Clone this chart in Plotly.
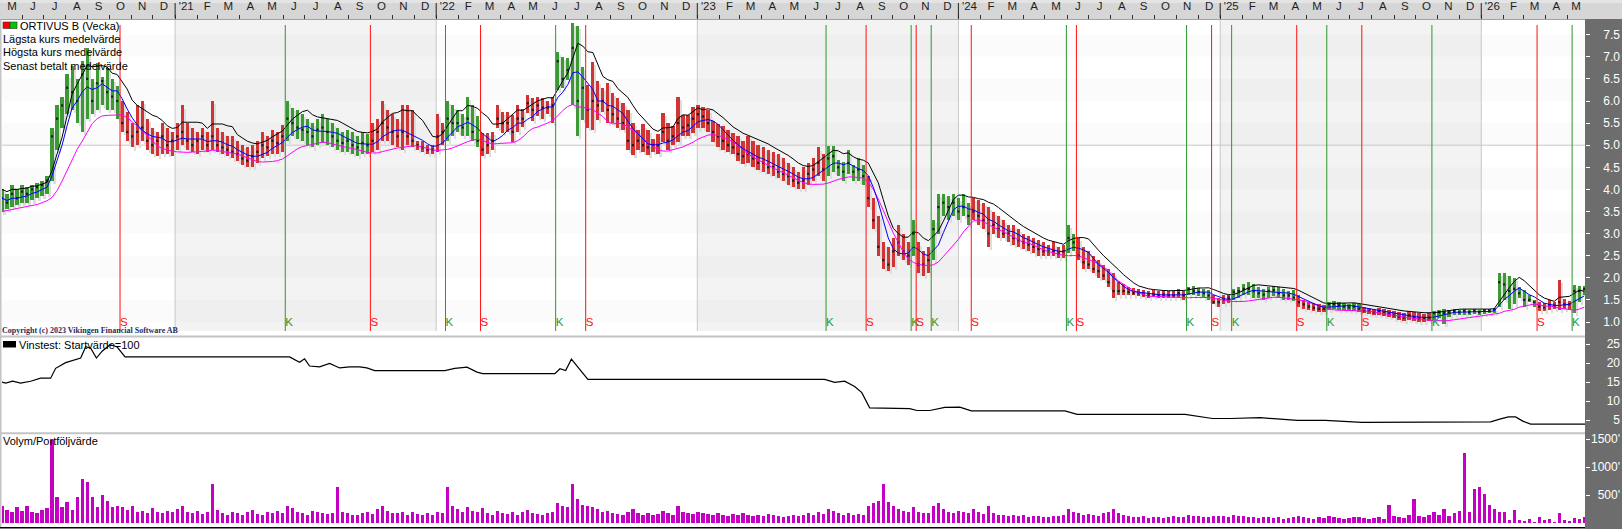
import pandas as pd
import plotly.graph_objects as go

W, H = 1622, 529
X0_PX, X1_PX = 2, 1585

first_week = "2020-05-04"
x_range = ["2020-05-04", "2026-05-26"]

# ---------------- weekly price data (high / low / close) ----------------
high_2020 = [4.0, 3.9, 4.1, 4.0, 4.1, 4.05, 4.1, 4.15, 4.2, 4.3,
             5.4, 5.9, 6.1, 6.6, 6.8, 6.5, 6.9, 7.2, 6.5, 6.85,
             6.55, 6.75, 6.5, 6.35, 6.0, 5.75, 5.5, 5.9, 6.0, 5.6,
             5.4, 5.3, 5.5, 5.4, 5.3]
low_2020 = [3.5, 3.55, 3.6, 3.65, 3.7, 3.7, 3.75, 3.8, 3.85, 3.9,
            4.2, 4.9, 5.4, 5.7, 5.8, 5.5, 5.3, 5.6, 5.7, 5.8,
            5.9, 5.8, 5.8, 5.6, 5.3, 5.1, 4.95, 5.0, 5.1, 4.9,
            4.8, 4.75, 4.8, 4.8, 4.75]
close_2020 = [3.8, 3.7, 3.9, 3.8, 3.95, 3.9, 4.0, 4.05, 4.1, 4.2,
              5.2, 5.6, 5.9, 6.3, 6.2, 6.0, 6.6, 6.5, 6.0, 6.4,
              6.45, 6.2, 6.1, 6.0, 5.5, 5.3, 5.2, 5.3, 5.4, 5.1,
              5.0, 5.1, 5.2, 5.0, 5.1]

high_2021 = [5.5, 5.9, 5.5, 5.4, 5.3, 5.4, 5.3, 6.0, 5.4, 5.3,
             5.2, 5.2, 5.1, 5.0, 4.95, 5.0, 5.1, 5.3, 5.2, 5.35,
             5.3, 5.45, 6.0, 5.85, 5.8, 5.7, 5.6, 5.5, 5.6, 5.7,
             5.6, 5.5, 5.4, 5.3, 5.35, 5.3, 5.2, 5.3, 5.25, 5.5,
             5.6, 6.0, 5.8, 5.7, 5.6, 5.9, 5.9, 5.8, 5.1, 5.1,
             5.0, 5.0]
low_2021 = [4.9, 5.0, 4.9, 4.85, 4.8, 4.9, 4.85, 4.9, 4.85, 4.8,
            4.75, 4.7, 4.65, 4.55, 4.5, 4.5, 4.6, 4.7, 4.75, 4.8,
            4.8, 4.85, 5.1, 5.2, 5.15, 5.1, 5.0, 4.95, 5.0, 5.05,
            5.0, 4.95, 4.9, 4.85, 4.85, 4.8, 4.75, 4.8, 4.8, 4.85,
            4.9, 5.1, 5.1, 5.0, 4.95, 4.9, 5.0, 4.95, 4.9, 4.85,
            4.8, 4.8]
close_2021 = [5.2, 5.3, 5.1, 5.0, 5.1, 5.2, 5.0, 5.2, 5.0, 4.95,
              4.9, 4.85, 4.8, 4.7, 4.65, 4.75, 4.85, 5.0, 4.95, 5.1,
              5.05, 5.2, 5.6, 5.5, 5.4, 5.35, 5.3, 5.2, 5.35, 5.4,
              5.3, 5.2, 5.1, 5.05, 5.1, 5.0, 4.95, 5.05, 5.0, 5.1,
              5.3, 5.5, 5.4, 5.3, 5.2, 5.3, 5.2, 5.1, 5.0, 4.95,
              4.9, 4.9]

high_2022 = [5.7, 5.5, 6.0, 5.9, 5.8, 5.7, 6.1, 5.9, 5.65, 5.27,
             5.27, 5.3, 5.9, 5.76, 5.76, 5.68, 5.9, 5.82, 6.14, 6.07,
             6.1, 6.07, 6.0, 6.1, 7.1, 7.0, 6.97, 7.76, 7.7, 6.78,
             6.36, 6.89, 6.45, 6.3, 6.4, 6.18, 6.07, 5.95, 5.8, 5.5,
             5.35, 5.47, 5.35, 5.15, 5.25, 5.73, 5.5, 5.43, 6.1, 5.68,
             5.68, 5.87]
low_2022 = [4.85, 5.0, 5.1, 5.2, 5.3, 5.2, 5.2, 5.1, 4.95, 4.75,
            4.8, 4.9, 5.4, 5.27, 5.3, 5.08, 5.3, 5.42, 5.72, 5.55,
            5.65, 5.6, 5.7, 5.5, 6.25, 6.3, 6.47, 5.9, 5.2, 5.57,
            5.4, 5.35, 5.57, 5.75, 5.5, 5.5, 5.4, 5.35, 4.9, 4.78,
            4.9, 4.85, 4.78, 4.85, 4.8, 5.08, 4.9, 5.0, 5.08, 5.2,
            5.2, 5.27]
close_2022 = [5.2, 5.3, 5.6, 5.5, 5.5, 5.4, 5.6, 5.3, 5.1, 4.9,
              5.0, 5.1, 5.6, 5.5, 5.5, 5.3, 5.6, 5.6, 5.95, 5.8,
              5.9, 5.85, 5.85, 5.9, 6.9, 6.5, 6.7, 7.2, 6.0, 6.3,
              5.8, 6.0, 5.9, 6.0, 5.8, 5.7, 5.6, 5.5, 5.1, 5.0,
              5.1, 5.0, 4.95, 5.0, 5.0, 5.3, 5.1, 5.2, 5.5, 5.4,
              5.45, 5.6]

high_2023 = [5.9, 5.87, 5.8, 5.55, 5.47, 5.43, 5.35, 5.27, 5.2, 5.1,
             5.2, 5.1, 5.0, 4.95, 4.9, 4.85, 4.8, 4.7, 4.6, 4.5,
             4.4, 4.5, 4.6, 4.7, 4.95, 4.8, 4.98, 4.98, 4.66, 4.62,
             4.89, 4.55, 4.7, 4.55, 4.3, 3.8, 3.4, 2.8, 2.7, 2.9,
             3.2, 3.0, 2.8, 3.3, 2.8, 2.6, 2.7, 3.3, 3.9, 3.9,
             3.85, 3.9]
low_2023 = [5.38, 5.4, 5.3, 5.08, 4.95, 4.9, 4.85, 4.8, 4.65, 4.58,
            4.6, 4.5, 4.45, 4.4, 4.35, 4.3, 4.25, 4.2, 4.1, 4.05,
            4.0, 4.0, 4.1, 4.2, 4.3, 4.2, 4.3, 4.4, 4.3, 4.2,
            4.35, 4.2, 4.2, 4.1, 3.6, 3.1, 2.5, 2.2, 2.15, 2.25,
            2.5, 2.4, 2.3, 2.5, 2.1, 2.05, 2.1, 2.4, 3.0, 3.4,
            3.3, 3.4]
close_2023 = [5.7, 5.65, 5.5, 5.3, 5.2, 5.1, 5.0, 4.95, 4.8, 4.75,
              4.8, 4.7, 4.6, 4.6, 4.5, 4.5, 4.4, 4.35, 4.3, 4.2,
              4.15, 4.2, 4.35, 4.45, 4.6, 4.45, 4.7, 4.75, 4.5, 4.4,
              4.6, 4.4, 4.45, 4.3, 3.8, 3.3, 2.7, 2.4, 2.3, 2.6,
              2.8, 2.6, 2.5, 3.0, 2.3, 2.3, 2.4, 3.1, 3.6, 3.7,
              3.6, 3.7]

high_2024 = [3.8, 3.9, 3.7, 3.8, 3.75, 3.7, 3.6, 3.5, 3.4, 3.3,
             3.2, 3.2, 3.1, 3.0, 2.95, 2.9, 2.85, 2.8, 2.75, 2.8,
             2.7, 2.75, 3.2, 3.0, 2.9, 2.7, 2.6, 2.5, 2.4, 2.3,
             2.2, 2.1, 1.9, 1.85, 1.8, 1.78, 1.75, 1.72, 1.7, 1.72,
             1.7, 1.72, 1.7, 1.7, 1.75, 1.7, 1.8, 1.82, 1.78, 1.75,
             1.72, 1.6, 1.55]
low_2024 = [3.3, 3.4, 3.2, 3.3, 3.2, 3.1, 2.7, 3.0, 2.9, 2.9,
            2.8, 2.75, 2.7, 2.65, 2.6, 2.55, 2.5, 2.5, 2.5, 2.5,
            2.45, 2.45, 2.55, 2.6, 2.4, 2.2, 2.2, 2.1, 2.0, 1.95,
            1.8, 1.55, 1.6, 1.6, 1.6, 1.6, 1.58, 1.56, 1.55, 1.56,
            1.55, 1.55, 1.54, 1.55, 1.55, 1.5, 1.6, 1.6, 1.58, 1.55,
            1.5, 1.4, 1.35]
close_2024 = [3.5, 3.6, 3.4, 3.5, 3.4, 3.3, 3.0, 3.2, 3.1, 3.0,
              3.0, 2.9, 2.85, 2.8, 2.75, 2.7, 2.65, 2.6, 2.6, 2.6,
              2.55, 2.6, 2.9, 2.8, 2.5, 2.35, 2.3, 2.2, 2.15, 2.05,
              1.9, 1.7, 1.7, 1.7, 1.68, 1.65, 1.65, 1.62, 1.6, 1.62,
              1.6, 1.62, 1.6, 1.6, 1.65, 1.6, 1.75, 1.7, 1.68, 1.65,
              1.6, 1.45, 1.45]

high_2025 = [1.6, 1.62, 1.75, 1.8, 1.85, 1.9, 1.85, 1.8, 1.75, 1.8,
             1.82, 1.8, 1.75, 1.7, 1.72, 1.6, 1.5, 1.45, 1.42, 1.4,
             1.38, 1.45, 1.48, 1.45, 1.42, 1.4, 1.42, 1.4, 1.35, 1.32,
             1.3, 1.32, 1.3, 1.28, 1.25, 1.22, 1.2, 1.25, 1.22, 1.2,
             1.18, 1.2, 1.25, 1.28, 1.3, 1.28, 1.3, 1.28, 1.3, 1.28,
             1.3, 1.28]
low_2025 = [1.4, 1.42, 1.5, 1.55, 1.6, 1.6, 1.55, 1.55, 1.5, 1.55,
            1.58, 1.55, 1.5, 1.5, 1.48, 1.35, 1.3, 1.28, 1.25, 1.22,
            1.22, 1.28, 1.3, 1.28, 1.28, 1.25, 1.25, 1.22, 1.2, 1.18,
            1.15, 1.15, 1.14, 1.12, 1.08, 1.05, 1.02, 1.05, 1.03, 1.0,
            1.0, 1.02, 1.05, 1.1, 0.95, 1.12, 1.15, 1.15, 1.15, 1.15,
            1.18, 1.16]
close_2025 = [1.5, 1.55, 1.68, 1.7, 1.75, 1.75, 1.7, 1.65, 1.62, 1.7,
              1.72, 1.65, 1.6, 1.6, 1.55, 1.45, 1.4, 1.35, 1.32, 1.3,
              1.3, 1.4, 1.4, 1.38, 1.35, 1.33, 1.35, 1.3, 1.25, 1.25,
              1.22, 1.25, 1.2, 1.18, 1.15, 1.12, 1.1, 1.15, 1.1, 1.08,
              1.08, 1.1, 1.2, 1.22, 1.2, 1.22, 1.25, 1.22, 1.25, 1.22,
              1.25, 1.22]

high_2026 = [1.3, 1.3, 1.32, 2.1, 2.1, 2.05, 2.0, 1.8, 1.72, 1.6,
             1.5, 1.46, 1.43, 1.5, 1.45, 1.95, 1.52, 1.48, 1.84, 1.82,
             1.82]
low_2026 = [1.18, 1.2, 1.2, 1.35, 1.5, 1.3, 1.4, 1.55, 1.35, 1.45,
            1.35, 1.24, 1.25, 1.28, 1.3, 1.27, 1.3, 1.28, 1.2, 1.45,
            1.6]
close_2026 = [1.25, 1.25, 1.28, 1.9, 1.85, 1.7, 1.75, 1.65, 1.5, 1.5,
              1.45, 1.35, 1.33, 1.38, 1.37, 1.45, 1.4, 1.4, 1.7, 1.7,
              1.75]

# ---------------- weekly volume (thousands) ----------------
vol_2020 = [300, 240, 190, 280, 220, 300, 200, 180, 240, 260,
            1480, 460, 280, 370, 240, 460, 780, 740, 460, 280,
            500, 390, 280, 300, 280, 240, 300, 200, 220, 180,
            260, 200, 170, 220, 190]
vol_2021 = [250, 300, 200, 180, 220, 160, 200, 700, 240, 180,
            150, 200, 170, 140, 190, 230, 160, 150, 200, 180,
            210, 170, 300, 260, 200, 180, 150, 220, 190, 170,
            160, 180, 650, 200, 180, 150, 140, 170, 200, 160,
            250, 300, 220, 180, 170, 200, 150, 190, 160, 140,
            170, 150]
vol_2022 = [200, 180, 650, 300, 250, 200, 280, 220, 190, 260,
            180, 150, 220, 170, 160, 190, 150, 200, 230, 170,
            160, 140, 180, 200, 350, 300, 280, 700, 420, 330,
            300, 280, 250, 200, 220, 180, 160, 150, 200, 250,
            170, 150, 180, 140, 160, 220, 170, 150, 300, 200,
            180, 160]
vol_2023 = [200, 180, 160, 150, 170, 140, 130, 160, 150, 180,
            140, 120, 150, 130, 160, 140, 120, 110, 130, 150,
            120, 140, 170, 150, 200, 160, 250, 220, 180, 150,
            170, 140, 160, 150, 300, 350, 400, 700, 380, 300,
            250, 220, 200, 280, 200, 180, 170, 300, 350, 250,
            200, 180]
vol_2024 = [220, 200, 180, 250, 200, 160, 300, 180, 150, 140,
            130, 150, 120, 140, 110, 130, 120, 100, 110, 130,
            120, 140, 250, 200, 180, 150, 160, 140, 130, 170,
            200, 250, 180, 140, 120, 110, 100, 120, 90, 100,
            110, 90, 100, 120, 100, 110, 150, 130, 120, 100,
            110, 130, 120]
vol_2025 = [120, 100, 150, 130, 120, 110, 100, 90, 110, 100,
            90, 100, 80, 90, 110, 130, 100, 90, 80, 100,
            90, 120, 100, 90, 80, 90, 100, 110, 90, 80,
            90, 100, 80, 330, 120, 100, 90, 150, 430, 120,
            100, 150, 200, 150, 250, 130, 180, 220, 1250, 200,
            610, 650]
vol_2026 = [520, 330, 250, 200, 200, 54, 232, 54, 36, 71,
            24, 113, 60, 71, 24, 184, 54, 40, 83, 80,
            101]

# ---------------- trading signals (K = köp, S = sälj) ----------------
signal_dates = ["2020-10-16", "2021-06-04", "2021-10-01", "2022-01-14", "2022-03-04",
                "2022-06-17", "2022-07-29", "2023-06-30", "2023-08-25", "2023-10-27",
                "2023-11-03", "2023-11-24", "2024-01-19", "2024-05-31", "2024-06-14",
                "2024-11-15", "2024-12-20", "2025-01-17", "2025-04-18", "2025-05-30",
                "2025-07-18", "2025-10-24", "2026-03-20", "2026-05-08"]
signal_types = ["S", "K", "S", "K", "S",
                "K", "S", "K", "S", "K",
                "S", "K", "S", "K", "S",
                "K", "S", "K", "S", "K",
                "S", "K", "S", "K"]

# ---------------- Vinstest (equity curve) ----------------
vinst_dates = ["2020-05-04", "2020-05-09", "2020-05-19", "2020-05-30", "2020-06-13", "2020-06-27",
               "2020-07-11", "2020-07-18", "2020-08-01", "2020-08-22", "2020-08-29", "2020-09-05",
               "2020-09-13", "2020-09-21", "2020-10-02", "2020-10-12", "2020-10-23", "2021-06-10",
               "2021-06-24", "2021-07-01", "2021-07-08", "2021-07-22", "2021-08-05", "2021-08-19",
               "2021-09-02", "2021-09-16", "2021-09-26", "2021-10-07", "2022-01-13", "2022-01-27",
               "2022-02-13", "2022-02-27", "2022-03-07", "2022-06-16", "2022-06-23", "2022-07-01",
               "2022-07-09", "2022-07-18", "2022-08-01", "2023-06-28", "2023-07-12", "2023-07-26",
               "2023-08-09", "2023-08-19", "2023-08-30", "2023-10-25", "2023-11-04", "2023-11-22",
               "2023-12-13", "2024-01-03", "2024-01-19", "2024-05-29", "2024-06-15", "2024-11-13",
               "2024-12-04", "2024-12-21", "2025-01-15", "2025-02-26", "2025-04-19", "2025-05-28",
               "2025-07-18", "2025-10-21", "2026-01-14", "2026-01-28", "2026-02-08", "2026-02-18",
               "2026-02-28", "2026-03-11", "2026-05-26"]
vinst_values = [15.0, 14.7, 15.2, 14.7, 15.2, 16.0,
                16.0, 18.6, 20.1, 21.3, 24.3, 23.9,
                21.3, 23.1, 24.8, 24.2, 21.6, 21.6,
                20.2, 21.1, 19.2, 19.0, 19.9, 18.7,
                19.0, 19.0, 18.7, 18.0, 18.0, 18.6,
                18.9, 17.6, 17.2, 17.2, 18.5, 18.0,
                21.0, 19.0, 15.7, 15.7, 14.9, 15.2,
                13.8, 12.2, 8.2, 8.0, 7.5, 7.5,
                8.3, 8.4, 7.4, 7.4, 6.5, 6.5,
                6.0, 5.4, 5.4, 5.6, 4.9, 4.9,
                4.4, 4.4, 4.5, 5.3, 5.8, 5.8,
                4.7, 3.9, 3.9]

price_ticks = [1.0, 1.5, 2.0, 2.5, 3.0, 3.5, 4.0, 4.5, 5.0, 5.5, 6.0, 6.5, 7.0, 7.5]
vinst_ticks = [5, 10, 15, 20, 25]
vol_ticks = [500, 1000, 1500]
vol_tick_text = ["500'", "1000'", "1500'"]
month_letters = ["J", "F", "M", "A", "M", "J", "J", "A", "S", "O", "N", "D"]

legend_price = ["Lägsta kurs medelvärde", "Högsta kurs medelvärde", "Senast betalt medelvärde"]

# ---------------- assemble ----------------
high = high_2020 + high_2021 + high_2022 + high_2023 + high_2024 + high_2025 + high_2026
low = low_2020 + low_2021 + low_2022 + low_2023 + low_2024 + low_2025 + low_2026
close = close_2020 + close_2021 + close_2022 + close_2023 + close_2024 + close_2025 + close_2026
volume = vol_2020 + vol_2021 + vol_2022 + vol_2023 + vol_2024 + vol_2025 + vol_2026
n = min(len(high), len(low), len(close), len(volume))
high, low, close, volume = high[:n], low[:n], close[:n], volume[:n]
dates = pd.date_range(first_week, periods=n, freq="7D")
dstr = [d.strftime("%Y-%m-%d") for d in dates]

RED, GREEN = "#d03434", "#3c9a34"
SIG_RED, SIG_GREEN = "#ff1010", "#2e962e"

sig = sorted(zip(pd.to_datetime(signal_dates), signal_types))
state, j, colors = "K", 0, []
for d in dates:
    while j < len(sig) and sig[j][0] <= d:
        state = sig[j][1]
        j += 1
    colors.append(GREEN if state == "K" else RED)

ma_high = pd.Series(high).rolling(5, min_periods=1).mean().tolist()
ma_close = pd.Series(close).rolling(5, min_periods=1).mean().tolist()
ma_low = pd.Series(low).rolling(8, min_periods=1).mean().tolist()

# pixel calibration of the three panels
def p_price(y): return 1 + (322 - y) / 44.2
def p_vinst(y): return 5 + (420 - y) / 3.8
def p_vol(y): return (523 - y) * 500 / 28
def dom(y): return 1 - y / H
def px(x): return x / W

rs, re_ = pd.Timestamp(x_range[0]), pd.Timestamp(x_range[1])
ms_per_px = (re_ - rs).total_seconds() * 1000 / (X1_PX - X0_PX)

FONT = "Liberation Sans, Arial, sans-serif"

fig = go.Figure()

# shadow bars
fig.add_trace(go.Bar(x=dstr, y=[h - l for h, l in zip(high, low)], base=[l - 0.07 for l in low],
                     width=2.2 * ms_per_px, offset=1.4 * ms_per_px,
                     marker=dict(color="#dddddd", line=dict(width=0)), yaxis="y", hoverinfo="skip"))
# coloured bars
fig.add_trace(go.Bar(x=dstr, y=[h - l for h, l in zip(high, low)], base=low,
                     width=3.2 * ms_per_px, offset=-1.6 * ms_per_px,
                     marker=dict(color=colors, line=dict(width=0)), yaxis="y", hoverinfo="skip"))
# close marks
fig.add_trace(go.Scatter(x=dstr, y=close, mode="markers", yaxis="y",
                         marker=dict(symbol="square", size=2.2, color="#1c1c1c", line=dict(width=0)),
                         hoverinfo="skip"))
# moving averages
fig.add_trace(go.Scatter(x=dstr, y=ma_low, mode="lines", line=dict(color="#ff00ff", width=1), yaxis="y"))
fig.add_trace(go.Scatter(x=dstr, y=ma_high, mode="lines", line=dict(color="#000000", width=1), yaxis="y"))
fig.add_trace(go.Scatter(x=dstr, y=ma_close, mode="lines", line=dict(color="#0000ff", width=1), yaxis="y"))

# signal lines
sig_top = p_price(25)
for t, col in (("S", SIG_RED), ("K", SIG_GREEN)):
    xs, ys = [], []
    for d, tt in zip(signal_dates, signal_types):
        if tt == t:
            xs += [d, d, None]
            ys += [0.0, sig_top, None]
    fig.add_trace(go.Scatter(x=xs, y=ys, mode="lines", line=dict(color=col, width=1), yaxis="y",
                             hoverinfo="skip"))
fig.add_trace(go.Scatter(x=signal_dates, y=[p_price(323)] * len(signal_dates), mode="text",
                         text=signal_types, textposition="middle right", yaxis="y",
                         textfont=dict(family=FONT, size=11.5,
                                       color=[SIG_RED if t == "S" else SIG_GREEN for t in signal_types]),
                         hoverinfo="skip"))

# Vinstest
fig.add_trace(go.Scatter(x=vinst_dates, y=vinst_values, mode="lines",
                         line=dict(color="#000000", width=1.2), yaxis="y2"))
# Volume
fig.add_trace(go.Bar(x=dstr, y=volume, width=3.2 * ms_per_px, offset=-1.6 * ms_per_px,
                     marker=dict(color="#c400c4", line=dict(width=0)), yaxis="y3"))
# dummies for label axes
for ax in ("y4", "y5", "y6"):
    fig.add_trace(go.Scatter(x=[dstr[0]], y=[None], mode="markers", yaxis=ax, hoverinfo="skip"))

# ---------------- x axis ticks ----------------
months = pd.date_range("2020-05-01", "2026-05-01", freq="MS")
tickvals, ticktext = [], []
for m in months:
    nxt = m + pd.offsets.MonthBegin(1)
    a, b = max(m, rs), min(nxt, re_)
    tickvals.append((a + (b - a) / 2).strftime("%Y-%m-%d %H:%M"))
    ticktext.append("'" + str(m.year)[2:] if m.month == 1 else month_letters[m.month - 1])
minor_vals = [m.strftime("%Y-%m-%d") for m in months if m > rs]
year_starts = [m.strftime("%Y-%m-%d") for m in months if m.month == 1]

price_rng = [p_price(331), p_price(20)]
vinst_rng = [p_vinst(432), p_vinst(338)]
vol_rng = [p_vol(527), p_vol(435)]
price_dom = [dom(331), dom(20)]
vinst_dom = [dom(432), dom(338)]
vol_dom = [dom(527), dom(435)]
LABEL_POS = px(1620)

def val_axis(domain, rng, ticks):
    return dict(domain=domain, range=rng, side="right", anchor="x", tickvals=ticks,
                showticklabels=False, ticks="outside", ticklen=4, tickcolor="#ffffff",
                showgrid=False, zeroline=False, showline=False, automargin=False, fixedrange=True)

def lab_axis(over, rng, ticks, text):
    return dict(overlaying=over, side="left", anchor="free", position=LABEL_POS, range=rng,
                tickvals=ticks, ticktext=text, ticks="", showgrid=False, zeroline=False,
                showline=False, automargin=False,
                tickfont=dict(family=FONT, size=12, color="#ffffff"))

shapes = []
# top axis bar and right panel
shapes.append(dict(type="rect", xref="paper", yref="paper", x0=0, x1=1, y0=dom(19), y1=1,
                   fillcolor="#d6d6d6", line=dict(width=0), layer="below"))
shapes.append(dict(type="rect", xref="paper", yref="paper", x0=0, x1=1, y0=dom(3), y1=1,
                   fillcolor="#e4e4e4", line=dict(width=0), layer="below"))
shapes.append(dict(type="line", xref="paper", yref="paper", x0=0, x1=px(X1_PX), y0=dom(19.5), y1=dom(19.5),
                   line=dict(color="#a0a0a0", width=1)))
shapes.append(dict(type="rect", xref="paper", yref="paper", x0=px(X1_PX), x1=1, y0=0, y1=dom(19),
                   fillcolor="#6d6d6d", line=dict(width=0), layer="below"))
# year shading (odd years) and horizontal bands in price panel
for i, ys in enumerate(year_starts):
    if pd.Timestamp(ys).year % 2 == 1:
        ye = year_starts[i + 1] if i + 1 < len(year_starts) else x_range[1]
        shapes.append(dict(type="rect", xref="x", yref="paper", x0=ys, x1=ye,
                           y0=price_dom[0], y1=price_dom[1], fillcolor="#f3f3f3",
                           line=dict(width=0), layer="below"))
for k, t in enumerate(price_ticks):
    if k % 2 == 0:
        shapes.append(dict(type="rect", xref="paper", yref="y", x0=px(X0_PX), x1=px(X1_PX),
                           y0=t, y1=t + 0.5, fillcolor="rgba(0,0,0,0.015)",
                           line=dict(width=0), layer="below"))
shapes.append(dict(type="line", xref="paper", yref="y", x0=px(X0_PX), x1=px(X1_PX), y0=5.0, y1=5.0,
                   line=dict(color="#c8c8c8", width=1), layer="below"))
for ys in year_starts:
    shapes.append(dict(type="line", xref="x", yref="paper", x0=ys, x1=ys,
                       y0=price_dom[0], y1=price_dom[1], line=dict(color="#c8c8c8", width=1),
                       layer="below"))
    shapes.append(dict(type="line", xref="x", yref="paper", x0=ys, x1=ys,
                       y0=dom(18), y1=dom(3), line=dict(color="#202020", width=1)))
# separators
for y0, y1 in ((335.5, 337.5), (432.3, 434.3)):
    shapes.append(dict(type="rect", xref="paper", yref="paper", x0=0, x1=px(X1_PX),
                       y0=dom(y1), y1=dom(y0), fillcolor="#c4c4c4", line=dict(width=0)))
shapes.append(dict(type="rect", xref="paper", yref="paper", x0=0, x1=px(X1_PX),
                   y0=dom(528.5), y1=dom(527), fillcolor="#000000", line=dict(width=0)))
shapes.append(dict(type="rect", xref="paper", yref="paper", x0=0, x1=px(1.5),
                   y0=dom(527), y1=dom(19.5), fillcolor="#c4c4c4", line=dict(width=0)))
# legend icons
shapes.append(dict(type="rect", xref="paper", yref="paper", x0=px(3), x1=px(10), y0=dom(28.5), y1=dom(22),
                   fillcolor="#ff0000", line=dict(color="#303030", width=0.6)))
shapes.append(dict(type="rect", xref="paper", yref="paper", x0=px(10), x1=px(17), y0=dom(28.5), y1=dom(22),
                   fillcolor="#00c800", line=dict(color="#303030", width=0.6)))
shapes.append(dict(type="rect", xref="paper", yref="paper", x0=px(3), x1=px(16), y0=dom(347.5), y1=dom(341),
                   fillcolor="#000000", line=dict(width=0)))

annotations = []
def note(text, x, y, size=11, color="#000000", family=FONT):
    annotations.append(dict(text=text, xref="paper", yref="paper", x=px(x), y=dom(y),
                            xanchor="left", yanchor="middle", showarrow=False, borderpad=0,
                            font=dict(family=family, size=size, color=color)))

note("ORTIVUS B (Vecka)", 19, 25.5)
for k, t in enumerate(legend_price):
    note(t, 2, 39 + 13.4 * k)
note("Vinstest: Startvärde=100", 18, 344.5)
note("Volym/Portföljvärde", 2, 440.5)
note("<b>Copyright (c) 2023 Vikingen Financial Software AB</b>", 1, 330,
     size=8, color="#1f2d5c", family="Liberation Serif, Times New Roman, serif")

fig.update_layout(
    width=W, height=H, margin=dict(l=0, r=0, t=0, b=0, pad=0),
    paper_bgcolor="#ffffff", plot_bgcolor="#ffffff",
    showlegend=False, hovermode=False, barmode="overlay", bargap=0,
    font=dict(family=FONT, size=12, color="#000000"),
    xaxis=dict(type="date", range=x_range, domain=[px(X0_PX), px(X1_PX)], anchor="y", side="top",
               tickmode="array", tickvals=tickvals, ticktext=ticktext,
               ticks="outside", ticklen=4, tickcolor="rgba(0,0,0,0)",
               minor=dict(tickmode="array", tickvals=minor_vals, ticks="outside", ticklen=4,
                          tickcolor="#303030", tickwidth=1, showgrid=False),
               tickfont=dict(family=FONT, size=11.5, color="#1e1e1e"),
               showgrid=False, zeroline=False, showline=False, automargin=False, fixedrange=True),
    yaxis=val_axis(price_dom, price_rng, price_ticks),
    yaxis2=val_axis(vinst_dom, vinst_rng, vinst_ticks),
    yaxis3=val_axis(vol_dom, vol_rng, vol_ticks),
    yaxis4=lab_axis("y", price_rng, price_ticks, [f"{t:.1f}" for t in price_ticks]),
    yaxis5=lab_axis("y2", vinst_rng, vinst_ticks, [str(t) for t in vinst_ticks]),
    yaxis6=lab_axis("y3", vol_rng, vol_ticks, vol_tick_text),
    shapes=shapes, annotations=annotations,
)

fig.write_html("out.html", config={"displayModeBar": False, "staticPlot": True},
               post_script="document.body.style.margin='0px';document.body.style.overflow='hidden';")
